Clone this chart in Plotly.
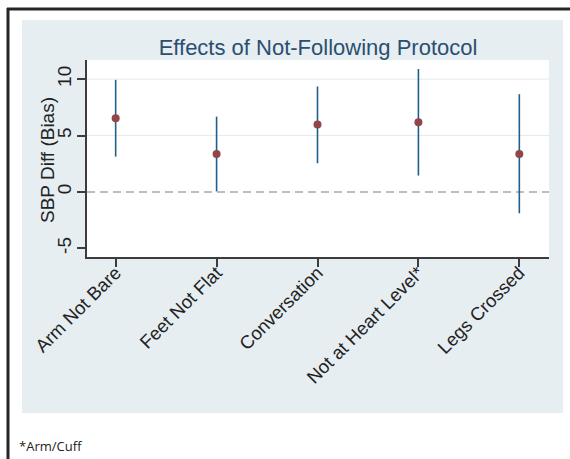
import plotly.graph_objects as go

# ---- data ----
categories = ["Arm Not Bare", "Feet Not Flat", "Conversation", "Not at Heart Level*", "Legs Crossed"]
bias = [6.54, 3.37, 5.97, 6.18, 3.37]
ci_lower = [3.13, 0.05, 2.55, 1.45, -1.89]
ci_upper = [9.94, 6.68, 9.35, 10.90, 8.67]
y_ticks = [-5, 0, 5, 10]
grid_values = [5, 10]
ref_value = 0
title_text = "Effects of Not-Following Protocol"
y_title = "SBP Diff (Bias)"
footnote = "*Arm/Cuff"

# ---- geometry ----
W, H = 570, 459
L, R, T, B = 87, 21, 60, 202
PW = W - L - R
PH = H - T - B


def px_x(px):
    return (px - L) / PW


def px_y(py):
    return (H - B - py) / PH


FONT = "Liberation Sans, Arial, sans-serif"
LINE_COL = "#1f5f8b"
MARK_COL = "#944549"
AXIS_COL = "#3c3c3c"
PANEL_COL = "#e6eef2"

x_idx = list(range(len(categories)))

fig = go.Figure()
fig.add_trace(go.Scatter(
    x=x_idx,
    y=bias,
    mode="markers",
    marker=dict(color=MARK_COL, size=8, line=dict(width=0)),
    error_y=dict(
        type="data",
        symmetric=False,
        array=[u - b for u, b in zip(ci_upper, bias)],
        arrayminus=[b - l for b, l in zip(bias, ci_lower)],
        width=0,
        thickness=1.6,
        color=LINE_COL,
    ),
    showlegend=False,
))

shapes = []
# panel background
shapes.append(dict(type="rect", xref="paper", yref="paper",
                   x0=px_x(22), x1=px_x(563), y0=px_y(413), y1=px_y(20),
                   fillcolor=PANEL_COL, line=dict(width=0), layer="below"))
# white plot region
shapes.append(dict(type="rect", xref="paper", yref="paper",
                   x0=0, x1=1, y0=0, y1=1,
                   fillcolor="white", line=dict(width=0), layer="below"))
# grid lines
for g in grid_values:
    shapes.append(dict(type="line", xref="paper", yref="y", x0=0, x1=1, y0=g, y1=g,
                       line=dict(color="#e2eaef", width=1), layer="below"))
# dashed reference line
shapes.append(dict(type="line", xref="paper", yref="y", x0=0, x1=1, y0=ref_value, y1=ref_value,
                   line=dict(color="#a9a9a9", width=1.5, dash="8px,5px"), layer="below"))
# slide frame (top and left)
shapes.append(dict(type="line", xref="paper", yref="paper",
                   x0=px_x(7), x1=px_x(572), y0=px_y(9), y1=px_y(9),
                   line=dict(color="#262626", width=3)))
shapes.append(dict(type="line", xref="paper", yref="paper",
                   x0=px_x(8), x1=px_x(8), y0=px_y(8), y1=px_y(462),
                   line=dict(color="#262626", width=3)))

fig.update_layout(
    width=W, height=H,
    margin=dict(l=L, r=R, t=T, b=B, pad=0),
    paper_bgcolor="white",
    plot_bgcolor="white",
    font=dict(family=FONT, color="#222222"),
    title=dict(text=title_text, x=0.5, xref="paper", xanchor="center",
               y=1 - 47 / H, yref="container", yanchor="middle",
               font=dict(family=FONT, size=22, color="#2b4f70")),
    shapes=shapes,
    annotations=[
        dict(text=footnote, xref="paper", yref="paper",
             x=px_x(17), y=px_y(446), xanchor="left", yanchor="middle",
             showarrow=False,
             font=dict(family="Open Sans, sans-serif", size=13, color="#222222")),
        dict(text=y_title, xref="paper", yref="paper",
             x=px_x(47), y=px_y(160), xanchor="center", yanchor="middle",
             textangle=-90, showarrow=False,
             font=dict(family=FONT, size=19, color="#222222")),
    ],
    xaxis=dict(
        range=[-0.284, 4.294],
        tickmode="array", tickvals=x_idx, ticktext=categories,
        tickangle=-45,
        tickfont=dict(family=FONT, size=18.5, color="#222222"),
        ticklabelstandoff=-12,
        showgrid=False, zeroline=False,
        showline=True, linecolor=AXIS_COL, linewidth=1.5,
        ticks="outside", ticklen=8, tickwidth=1.5, tickcolor=AXIS_COL,
    ),
    yaxis=dict(
        range=[-5.77, 11.7],
        tickmode="array", tickvals=y_ticks, ticktext=[str(v) for v in y_ticks],
        tickangle=-90,
        tickfont=dict(family=FONT, size=19, color="#222222"),
        ticklabelstandoff=-1,
        showgrid=False, zeroline=False,
        showline=True, linecolor=AXIS_COL, linewidth=1.5,
        ticks="outside", ticklen=8, tickwidth=1.5, tickcolor=AXIS_COL,
    ),
)

fig.write_html("out.html",
               config={"displayModeBar": False},
               post_script="document.body.style.margin='0';document.body.style.padding='0';"
                           "document.documentElement.style.overflow='hidden';")
